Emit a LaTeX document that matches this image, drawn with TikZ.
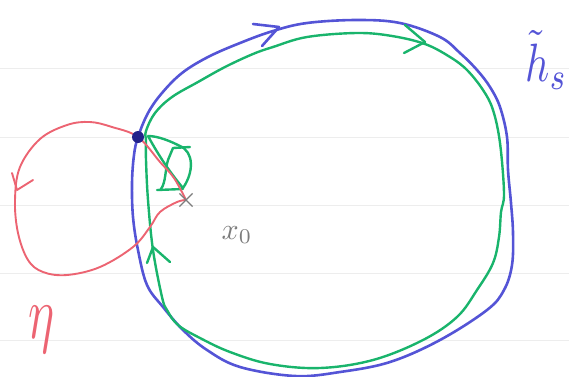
\documentclass[tikz,border=0pt]{standalone}
\usepackage{amsmath,amssymb,xcolor,tikz}
\usetikzlibrary{calc,shapes.misc}
\definecolor{Hc}{HTML}{5454D6}
\definecolor{Gc}{HTML}{19B46C}
\definecolor{Ec}{HTML}{EC6472}
\definecolor{Dc}{HTML}{22228A}
\definecolor{Xc}{HTML}{7C7C7C}
\definecolor{faint}{HTML}{EDEDED}
\tikzset{
  hline/.style={draw=Hc, line width=2.6pt, line cap=round, line join=round},
  gline/.style={draw=Gc, line width=2.4pt, line cap=round, line join=round},
  eline/.style={draw=Ec, line width=1.9pt, line cap=round, line join=round},
  base/.style={circle, fill=Dc, inner sep=0pt, minimum size=12pt},
  xmark/.style={cross out, draw=Xc, line width=1.2pt, inner sep=0pt, minimum size=12pt},
  rule/.style={faint, line width=0.8pt},
}
\newcommand{\paperlines}{%
  \foreach \yy in {68,137,205,273,340} \draw[rule] (0,\yy) -- (569,\yy);}

\begin{document}
\begin{tikzpicture}[x=1pt, y=-1pt]
  \useasboundingbox (0,0) rectangle (569,376);
  \paperlines
  \coordinate (b) at (138,137);
  \coordinate (xo) at (186,200);
  % h_s tilde
  \draw[hline] plot[smooth cycle, tension=0.6] coordinates {(b) (148,113) (162,93) (182,73)
    (208,57) (240,43) (273,31) (307,23) (357,20) (400,23) (440,37) (460,53) (477,70)
    (490,87) (500,107) (507,137) (508,170) (511,203) (513,233) (512,265) (504,290)
    (487,310) (440,340) (390,362) (340,372) (295,376) (240,367) (207,350) (183,330)
    (163,307) (147,285) (138,250) (133,217) (132,183) (134,155)};
  \draw[hline] (253,24) -- (279,27) -- (262,46);
  % green loop
  \draw[gline] plot[smooth cycle, tension=0.6] coordinates {(146,131) (155,113) (172,97)
    (198,82) (225,67) (253,54) (273,47) (307,37) (357,33) (392,36) (425,44) (450,57)
    (467,70) (483,90) (493,110) (500,143) (504,193) (501,212) (499,237) (493,263)
    (477,290) (457,317) (423,340) (373,360) (320,368) (270,364) (230,352) (200,338)
    (178,325) (167,310) (162,297) (153,250) (148,200) (146,160) (146,141)};
  \draw[gline] (405,25) -- (425,42) -- (404,53);
  \draw[gline] (147,263) -- (153,247) -- (170,262);
  % small loop at the base point
  \draw[gline] (148,136) .. controls (160,158) and (172,175) .. (183,188)
    .. controls (194,172) and (194,152) .. (180,146) .. controls (170,141) and (158,136) .. (148,136);
  \draw[gline] (190,147) -- (173,148) -- (168,160) .. controls (165,170) and (166,182) .. (161,189);
  \draw[gline] (157,190) -- (183,189);
  % eta
  \draw[eline] plot[smooth, tension=0.6] coordinates {(xo) (177,202) (160,212) (150,227)
    (133,247) (100,267) (67,275) (43,272) (28,260) (18,233) (15,200) (20,167) (40,139)
    (67,125) (90,122) (112,127) (b) (160,162) (174,178) (xo)};
  \draw[eline] (12,173) -- (17,190) -- (33,180);
  \node[base] (bp) at (b) {};
  \node[xmark] (x0) at (xo) {};
  \node[text=Xc] (x0lab) at (237,235) {\scalebox{3}{$x_0$}};
  \node[text=Ec] (etalab) at (42,330) {\scalebox{4.9}[7.5]{$\eta$}};
  \node[text=Hc, anchor=base west] (hslab) at (522,81) {\scalebox{4.2}[5.4]{$\tilde{h}_s$}};
\end{tikzpicture}
\end{document}
